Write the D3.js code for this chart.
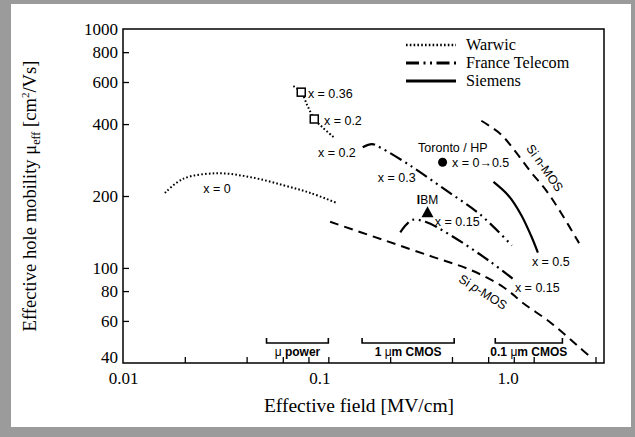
<!DOCTYPE html>
<html><head><meta charset="utf-8">
<script src="https://cdn.jsdelivr.net/npm/d3@7"></script>
<style>body{margin:0;background:#fff}svg{display:block}</style>
</head><body>
<svg id="c" width="635" height="437"></svg>
<script>
// ---------- data ----------
const xTickValues = [0.02,0.04,0.06,0.08,0.1,0.2,0.4,0.6,0.8,1,2];
const xLabelValues = [0.01,0.1,1];
const xLabelText = ["0.01","0.1","1.0"];
const yTickValues = [60,80,100,200,400,600,800];
const yLabelValues = [40,60,80,100,200,400,600,800,1000];

// Warwic (dotted)
const warwicX0_E  = [0.0160,0.0196,0.0287,0.0416,0.0603,0.0817,0.110];
const warwicX0_mu = [206,236,249,240,222,206,187];
const warwicHi_E  = [0.0675,0.0738,0.0790,0.0854,0.0935,0.106];
const warwicHi_mu = [576,544,479,420,388,353];
const warwicSq_E  = [0.0738,0.0854];
const warwicSq_mu = [544,420];

// France Telecom (dash-dot-dot)
const ftX03_E  = [0.147,0.163,0.178,0.249,0.372,0.55,0.783];
const ftX03_mu = [320,330,320,269,212,167,124];
const ftX015_E  = [0.224,0.240,0.257,0.297,0.394,0.617,0.792];
const ftX015_mu = [141,152,159,156,137,106,90];

// Siemens (solid)
const siemens_E  = [0.637,0.756,0.868,0.969,1.048];
const siemens_mu = [229,200,167,137,116];

// Si reference curves (dashed)
const nmos_E  = [0.556,0.691,0.819,0.969,1.145,1.353,1.664];
const nmos_mu = [413,363,305,252,212,171,127];
const pmos_E  = [0.102,0.185,0.325,0.494,0.713,0.893,1.21,1.646,1.90];
const pmos_mu = [156,131,111,98,83,71,59,47,42.3];

// single points
const toronto_E = [0.36], toronto_mu = [277];
const ibm_E = [0.304], ibm_mu = [171];

// application ranges
const rangeLabels = ["\u03bc power","1 \u03bcm CMOS","0.1 \u03bcm CMOS"];
const rangeLo = [0.05,0.146,0.65];
const rangeHi = [0.10,0.41,1.38];

// legend
const legendNames = ["Warwic","France Telecom","Siemens"];

// annotations [text, E, mu, anchor]
const notes = [
  ["x = 0.36",0.0795,539,"start"],
  ["x = 0.2",0.0952,416,"start"],
  ["x = 0.2",0.089,305,"start"],
  ["x = 0",0.0287,216,"middle"],
  ["x = 0.3",0.174,240,"start"],
  ["x = 0.15",0.33,156,"start"],
  ["x = 0.5",0.98,106,"start"],
  ["x = 0.15",0.81,83,"start"],
  ["Toronto / HP",0.404,318,"middle"],
  ["x = 0\u21920.5",0.40,277,"start"]
];

// ---------- drawing ----------
const W=635,H=437;
const m={left:123,right:604,top:29,bottom:363};
const svg=d3.select("#c");
const x=d3.scaleLog().domain([0.01,2.2]).range([m.left,m.right]);
const y=d3.scaleLog().domain([40,1000]).range([m.bottom,m.top]);
const serif="'Liberation Serif','Times New Roman',serif";
const sans="'Liberation Sans',Arial,sans-serif";

svg.append("rect").attr("width",W).attr("height",H).attr("fill","#9b9b9b");
svg.append("rect").attr("x",11).attr("y",4).attr("width",620).attr("height",423).attr("fill","#fff");

// axes ticks (inward)
const gx=svg.append("g").attr("transform",`translate(0,${m.bottom})`)
  .call(d3.axisBottom(x).tickValues(xTickValues).tickSize(-6).tickFormat(""));
gx.select(".domain").remove();
gx.selectAll("line").attr("stroke","#000").attr("stroke-width",1.3);
const xLabelShift=[0,-9,-26];
const gxl=svg.append("g").attr("transform",`translate(0,${m.bottom})`)
  .call(d3.axisBottom(x).tickValues(xLabelValues).tickSize(0).tickPadding(9).tickFormat((d,i)=>xLabelText[i]));
gxl.select(".domain").remove();
gxl.selectAll("text").attr("font-family",serif).attr("font-size",17).attr("fill","#000")
  .attr("dx",(d,i)=>xLabelShift[i]);

const gy=svg.append("g").attr("transform",`translate(${m.left},0)`)
  .call(d3.axisLeft(y).tickValues(yTickValues).tickSize(-6).tickFormat(""));
gy.select(".domain").remove();
gy.selectAll("line").attr("stroke","#000").attr("stroke-width",1.3);
const gyl=svg.append("g").attr("transform",`translate(${m.left},0)`)
  .call(d3.axisLeft(y).tickValues(yLabelValues).tickSize(0).tickPadding(5).tickFormat(d3.format("d")));
gyl.select(".domain").remove();
gyl.selectAll("text").attr("font-family",serif).attr("font-size",17).attr("fill","#000")
  .attr("y",d=>d===40?-6:0);

svg.append("rect").attr("x",m.left).attr("y",m.top).attr("width",m.right-m.left)
  .attr("height",m.bottom-m.top).attr("fill","none").attr("stroke","#000").attr("stroke-width",1.5);

// axis titles
svg.append("text").attr("x",359).attr("y",412).attr("text-anchor","middle")
  .attr("font-family",serif).attr("font-size",19.5).text("Effective field [MV/cm]");
const yt=svg.append("text").attr("transform","translate(36,196) rotate(-90)").attr("text-anchor","middle")
  .attr("font-family",serif).attr("font-size",18.6);
yt.append("tspan").text("Effective hole mobility \u03bc");
yt.append("tspan").attr("font-size",12).attr("dy",4).text("eff");
yt.append("tspan").attr("dy",-4).text(" [cm");
yt.append("tspan").attr("font-size",11).attr("dy",-7).text("2");
yt.append("tspan").attr("dy",7).text("/Vs]");

// lines
const line=d3.line().x(d=>x(d[0])).y(d=>y(d[1])).curve(d3.curveCatmullRom.alpha(0.5));
const zip=(a,b)=>a.map((v,i)=>[v,b[i]]);
const styles={
  dot:{w:2,dash:"1.6,2.2"},
  ft:{w:2.2,dash:"13,4.5,2,4.5,2,4.5"},
  solid:{w:2.2,dash:null},
  dash:{w:2,dash:"9,6"}
};
function draw(E,mu,st){
  svg.append("path").attr("d",line(zip(E,mu))).attr("fill","none").attr("stroke","#000")
    .attr("stroke-width",st.w).attr("stroke-dasharray",st.dash);
}
draw(warwicX0_E,warwicX0_mu,styles.dot);
draw(warwicHi_E,warwicHi_mu,styles.dot);
draw(ftX03_E,ftX03_mu,styles.ft);
draw(ftX015_E,ftX015_mu,styles.ft);
draw(siemens_E,siemens_mu,styles.solid);
draw(nmos_E,nmos_mu,styles.dash);
draw(pmos_E,pmos_mu,styles.dash);

// markers
svg.selectAll(".sq").data(zip(warwicSq_E,warwicSq_mu)).enter().append("rect")
  .attr("x",d=>x(d[0])-4).attr("y",d=>y(d[1])-4).attr("width",8).attr("height",8)
  .attr("fill","#fff").attr("stroke","#000").attr("stroke-width",1.5);
svg.selectAll(".tor").data(zip(toronto_E,toronto_mu)).enter().append("circle")
  .attr("cx",d=>x(d[0])).attr("cy",d=>y(d[1])).attr("r",4.5).attr("fill","#000");
svg.selectAll(".ibm").data(zip(ibm_E,ibm_mu)).enter().append("path")
  .attr("d",d=>{const cx=x(d[0]),cy=y(d[1]);return `M${cx-6},${cy+5}L${cx+6},${cy+5}L${cx},${cy-6}Z`;})
  .attr("fill","#000");
// IBM label
const ib=svg.append("text").attr("x",x(ibm_E[0])).attr("y",y(ibm_mu[0])-8).attr("text-anchor","middle")
  .attr("font-family",sans).attr("font-size",12);
ib.append("tspan").attr("font-weight","bold").text("I");
ib.append("tspan").text("BM");

// annotations
notes.forEach(n=>{
  svg.append("text").attr("x",x(n[1])).attr("y",y(n[2])+4.5).attr("text-anchor",n[3])
    .attr("font-family",sans).attr("font-size",12.5).text(n[0]);
});
// rotated Si labels
svg.append("text").attr("transform",`translate(${x(1.134)},${y(262)}) rotate(55)`).attr("text-anchor","middle")
  .attr("dy","0.35em").attr("font-family",sans).attr("font-size",12.5).text("Si n-MOS");
const pl=svg.append("text").attr("transform",`translate(${x(0.566)},${y(79.3)}) rotate(32)`).attr("text-anchor","middle")
  .attr("dy","0.35em").attr("font-family",sans).attr("font-size",12.5);
pl.append("tspan").text("Si ");
pl.append("tspan").attr("font-style","italic").text("p");
pl.append("tspan").text("-MOS");

// range brackets
const by=m.bottom-20;
rangeLabels.forEach((lab,i)=>{
  const a=x(rangeLo[i]),b=x(rangeHi[i]);
  svg.append("path").attr("d",`M${a},${by-5}V${by}H${b}V${by-5}`).attr("fill","none")
    .attr("stroke","#000").attr("stroke-width",1.6);
  const t=svg.append("text").attr("x",(a+b)/2).attr("y",by+13).attr("text-anchor","middle")
    .attr("font-family",sans).attr("font-size",12).attr("font-weight","bold");
  const parts=lab.split("\u03bc");
  t.append("tspan").text(parts[0]);
  t.append("tspan").attr("font-weight","normal").text("\u03bc");
  t.append("tspan").text(parts[1]);
});

// legend
const lx0=406,lx1=456,ly=[45,63,81];
const lst=[styles.dot,styles.ft,styles.solid];
legendNames.forEach((nm,i)=>{
  svg.append("line").attr("x1",lx0).attr("x2",lx1).attr("y1",ly[i]).attr("y2",ly[i])
    .attr("stroke","#000").attr("stroke-width",lst[i].w+0.6).attr("stroke-dasharray",lst[i].dash);
  svg.append("text").attr("x",lx1+10).attr("y",ly[i]+5).attr("font-family",serif)
    .attr("font-size",16.2).text(nm);
});
</script>
</body></html>
